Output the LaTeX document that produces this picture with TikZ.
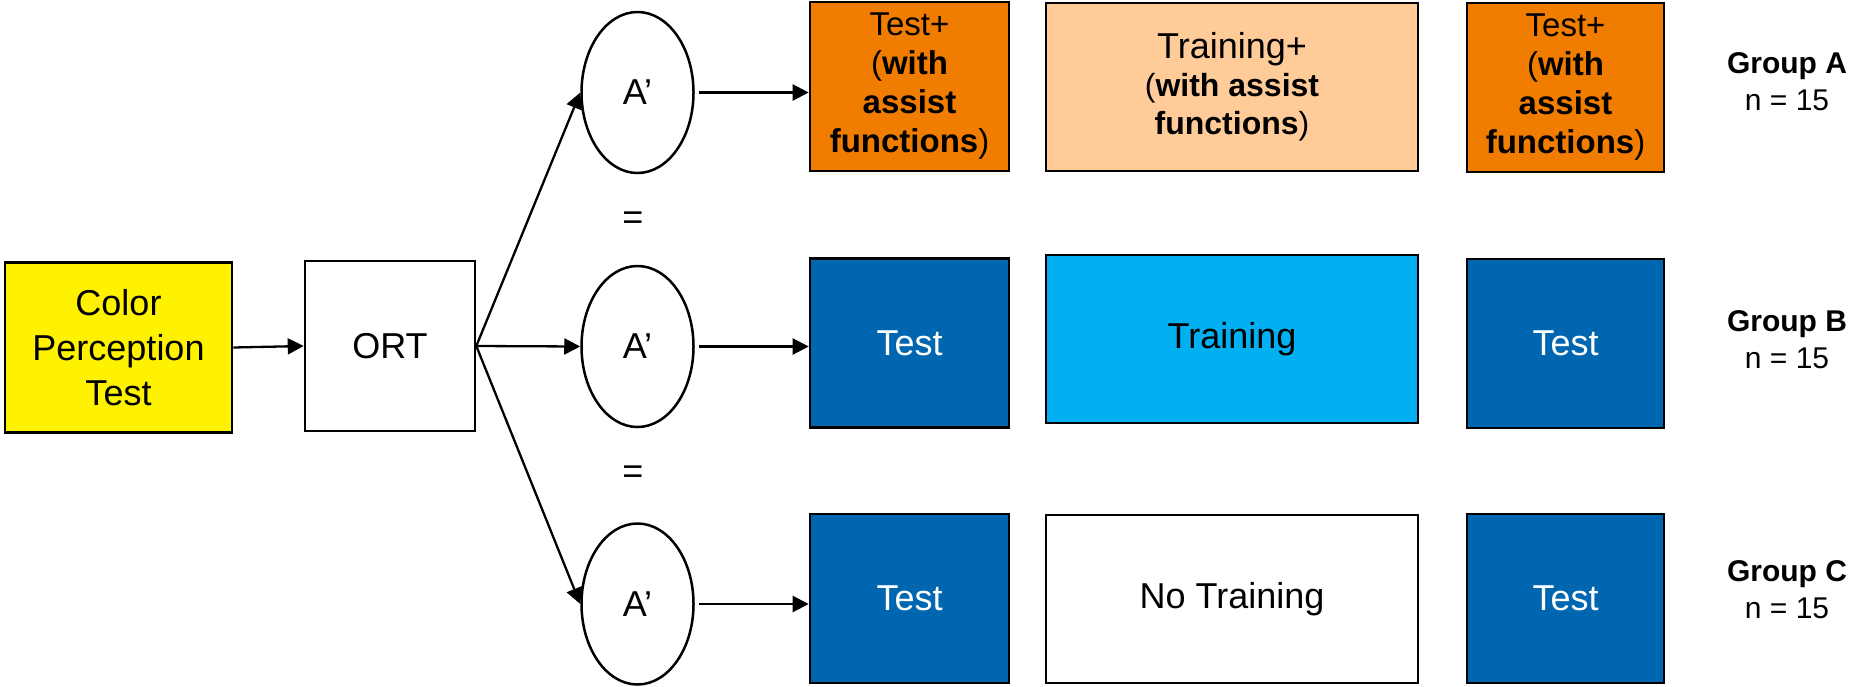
\documentclass[tikz,border=0pt]{standalone}
\usepackage{fontspec}
\setmainfont{Liberation Sans}
\usetikzlibrary{shapes.geometric,arrows.meta}
\definecolor{cporange}{RGB}{240,125,0}
\definecolor{cplorange}{RGB}{255,204,153}
\definecolor{cpdblue}{RGB}{0,102,176}
\definecolor{cplblue}{RGB}{0,176,240}
\begin{document}
\begin{tikzpicture}[x=1pt,y=-1pt,
  box/.style={draw=black, line width=2.6pt, rectangle, inner sep=0pt, align=center},
  ell/.style={draw=black, line width=2.5pt, ellipse, inner sep=0pt, minimum width=112pt, minimum height=161pt, font=\fontsize{36}{42}\selectfont},
  arr/.style={line width=2.3pt, -{Triangle[length=16pt,width=16pt]}},
  bigtxt/.style={font=\fontsize{36}{45}\selectfont},
  smalltxt/.style={font=\fontsize{33}{39}\selectfont},
  midtxt/.style={font=\fontsize{36}{38}\selectfont},
  grp/.style={align=center, inner sep=0pt, font=\fontsize{30}{37}\selectfont},
  eqs/.style={inner sep=0pt, font=\fontsize{36}{40}\selectfont}
]
\useasboundingbox (0,0) rectangle (1854,686);
% left
\node[box, bigtxt, fill=yellow, minimum width=227pt, minimum height=170pt] (cpt) at (118.5,347.5) {Color\\Perception\\Test};
\node[box, bigtxt, fill=white, minimum width=170pt, minimum height=170pt] (ort) at (390,346) {ORT};
% ellipses
\node[ell] (e1) at (637.5,92.5) {A’};
\node[ell] (e2) at (637.5,346.5) {A’};
\node[ell] (e3) at (637.5,604) {A’};
\node[eqs] (q1) at (633,221) {=};
\node[eqs] (q2) at (633,475) {=};
% first test column
\node[box, smalltxt, fill=cporange, minimum width=199pt, minimum height=169pt] (t1) at (909.5,86.5) {Test+\\(\textbf{with}\\\textbf{assist}\\\textbf{functions})};
\node[box, bigtxt, fill=cpdblue, text=white, minimum width=199pt, minimum height=169pt] (t2) at (909.5,343) {Test};
\node[box, bigtxt, fill=cpdblue, text=white, minimum width=199pt, minimum height=169pt] (t3) at (909.5,598.5) {Test};
% training column
\node[box, midtxt, fill=cplorange, minimum width=372pt, minimum height=168pt] (tr1) at (1232,87) {Training+\\{\fontsize{32}{38}\selectfont(\textbf{with assist}}\\{\fontsize{32}{38}\selectfont\textbf{functions})}};
\node[box, bigtxt, fill=cplblue, minimum width=372pt, minimum height=168pt] (tr2) at (1232,339) {Training};
\node[box, bigtxt, fill=white, minimum width=372pt, minimum height=168pt] (tr3) at (1232,599) {No Training};
% second test column
\node[box, smalltxt, fill=cporange, minimum width=197pt, minimum height=169pt] (r1) at (1565.5,87.5) {Test+\\(\textbf{with}\\\textbf{assist}\\\textbf{functions})};
\node[box, bigtxt, fill=cpdblue, text=white, minimum width=197pt, minimum height=169pt] (r2) at (1565.5,343.5) {Test};
\node[box, bigtxt, fill=cpdblue, text=white, minimum width=197pt, minimum height=169pt] (r3) at (1565.5,598.5) {Test};
% group labels
\node[grp] (g1) at (1787,82) {\textbf{Group A}\\n = 15};
\node[grp] (g2) at (1787,340) {\textbf{Group B}\\n = 15};
\node[grp] (g3) at (1787,590) {\textbf{Group C}\\n = 15};
% connectors
\draw[arr] (cpt.east) -- (ort.west);
\draw[arr] (ort.east) -- (e1.west);
\draw[arr] (ort.east) -- (e2.west);
\draw[arr] (ort.east) -- (e3.west);
\draw[arr, shorten <=4pt] (e1.east) -- (t1.west |- e1.east);
\draw[arr, shorten <=4pt] (e2.east) -- (t2.west |- e2.east);
\draw[arr, shorten <=4pt] (e3.east) -- (t3.west |- e3.east);
\end{tikzpicture}
\end{document}
